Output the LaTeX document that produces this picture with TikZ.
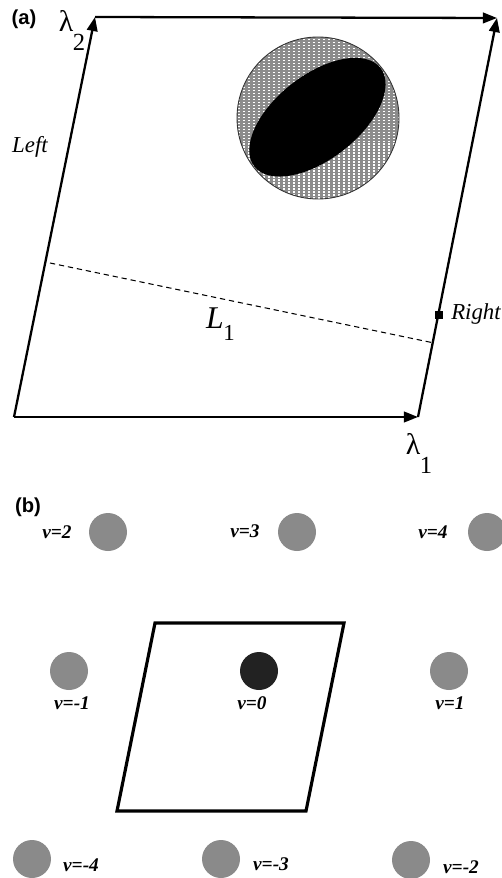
\documentclass[tikz,border=0pt]{standalone}
\usepackage{fontspec}
\setmainfont{Liberation Serif}
\newfontfamily\panelfont{Liberation Sans}
\usetikzlibrary{arrows.meta}
\definecolor{dotgray}{RGB}{138,138,138}
\definecolor{hatchgray}{RGB}{140,140,140}
\definecolor{darkdot}{RGB}{34,34,34}
\newlength{\pxu}
\setlength{\pxu}{0.02cm}
\tikzset{
  panellabel/.style={font=\panelfont\bfseries\fontsize{11.5}{13}\selectfont, inner sep=0pt},
  lam/.style={font=\fontsize{17}{19}\selectfont, inner sep=0pt},
  lamsub/.style={font=\fontsize{14}{16}\selectfont, inner sep=0pt},
  sidelabel/.style={font=\itshape\fontsize{13}{15}\selectfont, inner sep=0pt},
  vlabel/.style={font=\bfseries\itshape\fontsize{11}{13}\selectfont, inner sep=0pt},
  edgearrow/.style={line width=1.3pt, -{Triangle[length=8pt,width=6pt]}},
  cellbox/.style={line width=1.8pt, line join=miter},
  lattice/.style={circle, fill=dotgray, minimum size=38\pxu, inner sep=0pt},
  origin/.style={circle, fill=darkdot, minimum size=38\pxu, inner sep=0pt},
}
\begin{document}
\begin{tikzpicture}[x=0.02cm,y=-0.02cm]
\useasboundingbox (0,0) rectangle (502,878);
% ---------- panel (a) ----------
\node[panellabel] (pa) at (24,19) {(a)};
\coordinate (A) at (14,417);
\coordinate (B) at (418,417);
\coordinate (C) at (497,18);
\coordinate (D) at (95,17);
% beach ball
\coordinate (cc) at (318,118);
\fill[hatchgray] (cc) circle (81);
\begin{scope}
  \clip (cc) circle (81);
  \foreach \xx in {239,244,...,402} {
    \draw[white, line width=0.6pt, dash pattern=on 0.8pt off 0.9pt] (\xx,30) -- (\xx,205);
  }
  \fill[black, rotate around={38:(cc)}] (318,117) ellipse (80 and 42);
\end{scope}
\draw[black!80, line width=0.5pt] (cc) circle (81);
% parallelogram
\draw[edgearrow] (A) -- (B);
\draw[edgearrow] (A) -- (D);
\draw[edgearrow] (D) -- (C);
\draw[edgearrow] (B) -- (C);
% dashed L1
\coordinate (L1a) at (50,263);
\coordinate (L1b) at (434,343);
\draw[line width=0.6pt, dash pattern=on 3pt off 2.2pt] (L1a) -- (L1b);
\node[font=\itshape\fontsize{18}{20}\selectfont, inner sep=0pt] (L1) at (215,318) {L};
\node[font=\fontsize{13}{15}\selectfont, inner sep=0pt] (L1s) at (229,333) {1};
% labels
\node[lam] (l2) at (66,21) {λ};
\node[lamsub] (l2s) at (79,42) {2};
\node[lam] (l1) at (413,444) {λ};
\node[lamsub] (l1s) at (426,465) {1};
\node[sidelabel] (left) at (30,147) {Left};
\node[sidelabel] (right) at (476,314) {Right};
\node[fill=black, minimum size=8\pxu, inner sep=0pt] (rmark) at (439,315) {};
% ---------- panel (b) ----------
\node[panellabel] (pb) at (28,507) {(b)};
\coordinate (P1) at (117,811);
\coordinate (P2) at (306,811);
\coordinate (P3) at (344,623);
\coordinate (P4) at (155,623);
\draw[cellbox] (P1) -- (P2) -- (P3) -- (P4) -- cycle;
\node[lattice] (n2) at (108,532) {};
\node[vlabel] (t2) at (57,532) {v=2};
\node[lattice] (n3) at (297,532) {};
\node[vlabel] (t3) at (245,531) {v=3};
\node[lattice] (n4) at (487,532) {};
\node[vlabel] (t4) at (433,532) {v=4};
\node[lattice] (nm1) at (69,671) {};
\node[vlabel] (tm1) at (72,703) {v=-1};
\node[origin] (n0) at (259,671) {};
\node[vlabel] (t0) at (252,703) {v=0};
\node[lattice] (n1) at (449,671) {};
\node[vlabel] (t1) at (450,703) {v=1};
\node[lattice] (nm4) at (32,859) {};
\node[vlabel] (tm4) at (81,865) {v=-4};
\node[lattice] (nm3) at (221,859) {};
\node[vlabel] (tm3) at (271,864) {v=-3};
\node[lattice] (nm2) at (411,860) {};
\node[vlabel] (tm2) at (461,867) {v=-2};
\end{tikzpicture}
\end{document}
